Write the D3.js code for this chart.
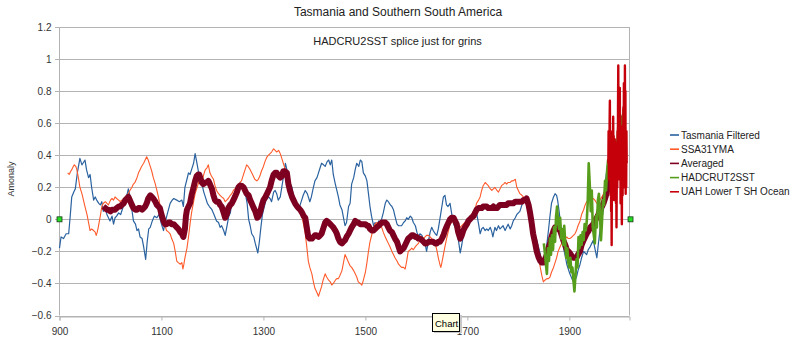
<!DOCTYPE html>
<html>
<head>
<meta charset="utf-8">
<script src="https://cdn.jsdelivr.net/npm/d3@7"></script>
<style>
  body { margin: 0; background: #fff; }
  svg { font-family: "Liberation Sans", Arial, sans-serif; }
</style>
</head>
<body>
<div id="container"></div>
<script>
// Hard Code values ---------- ---------- ----------
let canvasW = 798, canvasH = 341;
let title = "Tasmania and Southern South America";
let subtitle = "HADCRU2SST splice just for grins";
let yTicks = [-0.6, -0.4, -0.2, 0, 0.2, 0.4, 0.6, 0.8, 1, 1.2];
let xTicks = [900, 1100, 1300, 1500, 1700, 1900];
let seriesNames = ["Tasmania Filtered", "SSA31YMA", "Averaged", "HADCRUT2SST", "UAH  Lower T SH Ocean"];

// Data ---------- ---------- ----------
let tasmania = [[900,-0.18],[903,-0.11],[908,-0.12],[913,-0.09],[918,-0.09],[921,0.02],[924,0.14],[928,0.17],[931,0.19],[935,0.29],[940,0.38],[944,0.34],[946,0.35],[950,0.37],[953,0.31],[957,0.26],[960,0.28],[963,0.2],[967,0.12],[970,0.14],[973,0.12],[977,0.1],[980,0.09],[983,0.11],[986,0.05],[990,0.08],[993,0.03],[999,-0.01],[1003,0.02],[1006,-0.03],[1009,0.01],[1012,0.02],[1016,0.04],[1020,0.03],[1025,0.08],[1030,0.12],[1035,0.19],[1038,0.15],[1042,0.06],[1045,-0.01],[1049,-0.03],[1052,-0.07],[1055,-0.06],[1058,-0.11],[1062,-0.12],[1065,-0.17],[1069,-0.25],[1072,-0.14],[1075,-0.06],[1078,-0.05],[1082,-0.01],[1086,0.02],[1091,0.01],[1095,0.03],[1100,-0.03],[1104,-0.07],[1108,-0.01],[1112,0.04],[1117,0.1],[1121,0.12],[1124,0.13],[1130,0.12],[1135,0.11],[1140,0.12],[1143,0.08],[1146,0.2],[1150,0.25],[1153,0.29],[1156,0.28],[1159,0.31],[1163,0.35],[1166,0.41],[1169,0.36],[1173,0.29],[1176,0.23],[1180,0.21],[1183,0.17],[1186,0.14],[1190,0.1],[1194,0.08],[1199,0.06],[1203,0.03],[1208,-0.01],[1212,-0.02],[1215,-0.05],[1218,-0.04],[1222,-0.07],[1225,-0.1],[1228,-0.05],[1232,0.02],[1235,0.04],[1238,0.1],[1241,0.13],[1244,0.17],[1248,0.21],[1251,0.2],[1254,0.23],[1258,0.21],[1261,0.19],[1264,0.17],[1268,0.1],[1271,0],[1274,-0.04],[1277,-0.09],[1281,-0.11],[1284,-0.15],[1289,-0.21],[1292,-0.14],[1295,-0.05],[1298,0.03],[1301,0.07],[1305,0.12],[1310,0.14],[1313,0.13],[1316,0.11],[1320,0.17],[1323,0.18],[1326,0.16],[1329,0.12],[1333,0.14],[1336,0.2],[1340,0.28],[1343,0.35],[1346,0.31],[1350,0.25],[1353,0.22],[1356,0.2],[1359,0.14],[1362,0.1],[1366,0.07],[1369,0.06],[1372,0.09],[1375,0.12],[1378,0.15],[1382,0.18],[1386,0.16],[1391,0.11],[1394,0.14],[1398,0.2],[1401,0.24],[1405,0.26],[1408,0.29],[1411,0.32],[1414,0.35],[1418,0.34],[1421,0.33],[1425,0.36],[1428,0.37],[1431,0.34],[1434,0.37],[1437,0.28],[1441,0.22],[1444,0.18],[1447,0.14],[1450,0.09],[1454,0.06],[1457,0.01],[1460,-0.04],[1463,-0.02],[1467,0.08],[1470,0.1],[1473,0.22],[1477,0.26],[1480,0.31],[1483,0.35],[1487,0.33],[1490,0.37],[1493,0.36],[1496,0.29],[1500,0.27],[1503,0.24],[1506,0.16],[1509,0.08],[1512,0.02],[1516,-0.04],[1519,-0.02],[1522,-0.04],[1526,-0.01],[1530,-0.02],[1535,0.04],[1539,0.1],[1542,0.12],[1545,0.11],[1549,0.09],[1552,0.08],[1555,0.06],[1558,0.02],[1562,-0.03],[1565,-0.04],[1568,-0.04],[1571,-0.04],[1575,-0.02],[1578,-0.01],[1581,0.01],[1584,0],[1588,0.02],[1591,0.01],[1594,-0.02],[1598,-0.04],[1601,-0.08],[1604,-0.11],[1607,-0.09],[1611,-0.1],[1614,-0.13],[1617,-0.15],[1620,-0.2],[1624,-0.13],[1627,-0.08],[1630,-0.05],[1633,-0.07],[1637,-0.09],[1640,-0.1],[1643,-0.06],[1647,0.02],[1650,0.08],[1653,0.14],[1656,0.15],[1659,0.09],[1662,0.08],[1666,0.1],[1669,0.04],[1673,-0.03],[1676,-0.05],[1679,-0.07],[1682,-0.12],[1686,-0.21],[1689,-0.16],[1692,-0.1],[1695,-0.05],[1699,-0.02],[1702,-0.01],[1706,0.02],[1709,0.03],[1712,0.05],[1715,0.06],[1718,0.04],[1722,-0.03],[1725,-0.09],[1728,-0.06],[1731,-0.05],[1735,-0.07],[1738,-0.06],[1741,-0.07],[1745,-0.05],[1748,-0.08],[1750,-0.11],[1754,-0.05],[1757,-0.07],[1761,-0.04],[1764,-0.06],[1767,-0.05],[1770,-0.04],[1774,-0.07],[1777,-0.05],[1780,-0.03],[1784,-0.06],[1787,-0.04],[1790,-0.01],[1794,0.01],[1797,0.03],[1800,0.04],[1803,0.05],[1807,0.09],[1810,0.12],[1813,0.13],[1816,0.13],[1820,0.1],[1823,0.06],[1826,-0.01],[1829,-0.07],[1833,-0.1],[1836,-0.13],[1840,-0.18],[1843,-0.22],[1846,-0.26],[1849,-0.27],[1852,-0.26],[1855,-0.18],[1859,-0.07],[1862,0.02],[1865,0.1],[1869,0.14],[1872,0.16],[1875,0.15],[1877,0.12],[1880,0.05],[1882,-0.01],[1885,-0.09],[1888,-0.17],[1892,-0.23],[1895,-0.28],[1898,-0.31],[1901,-0.34],[1905,-0.37],[1908,-0.39],[1911,-0.38],[1914,-0.36],[1917,-0.32],[1921,-0.28],[1924,-0.24],[1928,-0.2],[1931,-0.21],[1934,-0.22],[1937,-0.19],[1941,-0.17],[1944,-0.15],[1947,-0.13],[1950,-0.18],[1954,-0.24],[1957,-0.15],[1960,-0.07],[1963,-0.01],[1967,0.06],[1970,0.18],[1972,0.27],[1975,0.34]];

let ssa31yma = [[916,0.29],[919,0.28],[922,0.3],[924,0.31],[927,0.33],[929,0.34],[932,0.33],[934,0.31],[937,0.26],[940,0.2],[944,0.16],[947,0.12],[950,0.08],[954,0.03],[957,-0.02],[960,-0.07],[963,-0.06],[967,-0.07],[970,-0.08],[972,-0.1],[974,-0.08],[976,-0.05],[980,0.02],[983,0.08],[986,0.1],[990,0.11],[993,0.1],[996,0.09],[1000,0.12],[1003,0.13],[1006,0.12],[1009,0.14],[1012,0.13],[1016,0.12],[1019,0.11],[1022,0.12],[1026,0.11],[1029,0.1],[1032,0.13],[1035,0.16],[1038,0.18],[1042,0.2],[1045,0.22],[1048,0.23],[1052,0.26],[1055,0.29],[1058,0.31],[1061,0.33],[1065,0.35],[1068,0.37],[1071,0.39],[1074,0.37],[1078,0.33],[1081,0.3],[1084,0.26],[1088,0.22],[1091,0.18],[1094,0.14],[1097,0.09],[1100,0.04],[1104,-0.01],[1107,-0.04],[1110,-0.07],[1114,-0.08],[1117,-0.09],[1120,-0.12],[1124,-0.15],[1127,-0.2],[1130,-0.26],[1133,-0.27],[1137,-0.28],[1140,-0.27],[1142,-0.31],[1144,-0.28],[1146,-0.24],[1150,-0.18],[1153,-0.11],[1156,-0.03],[1159,0.04],[1163,0.11],[1166,0.16],[1170,0.2],[1173,0.23],[1176,0.25],[1180,0.24],[1183,0.28],[1186,0.31],[1189,0.32],[1192,0.34],[1195,0.29],[1198,0.27],[1202,0.25],[1205,0.21],[1208,0.18],[1212,0.16],[1215,0.15],[1218,0.14],[1222,0.13],[1225,0.11],[1228,0.12],[1231,0.13],[1235,0.15],[1238,0.16],[1241,0.18],[1244,0.19],[1248,0.2],[1251,0.21],[1254,0.23],[1257,0.24],[1261,0.28],[1264,0.31],[1267,0.34],[1270,0.33],[1274,0.31],[1277,0.29],[1280,0.27],[1283,0.25],[1287,0.24],[1290,0.25],[1293,0.27],[1296,0.3],[1300,0.33],[1303,0.36],[1307,0.39],[1310,0.4],[1313,0.41],[1316,0.42],[1320,0.44],[1323,0.43],[1326,0.42],[1330,0.43],[1333,0.41],[1336,0.38],[1339,0.35],[1342,0.32],[1346,0.29],[1349,0.26],[1352,0.23],[1356,0.18],[1359,0.13],[1362,0.1],[1366,0.08],[1369,0.06],[1372,0.04],[1375,0.03],[1378,-0.02],[1382,-0.09],[1385,-0.17],[1388,-0.26],[1391,-0.3],[1395,-0.34],[1398,-0.39],[1401,-0.43],[1404,-0.45],[1408,-0.48],[1411,-0.45],[1414,-0.42],[1417,-0.38],[1421,-0.34],[1424,-0.36],[1428,-0.38],[1431,-0.39],[1434,-0.41],[1437,-0.4],[1441,-0.38],[1444,-0.37],[1447,-0.37],[1450,-0.35],[1454,-0.32],[1457,-0.27],[1460,-0.22],[1463,-0.24],[1467,-0.27],[1470,-0.29],[1473,-0.3],[1477,-0.32],[1480,-0.34],[1483,-0.36],[1486,-0.39],[1490,-0.4],[1493,-0.41],[1496,-0.38],[1500,-0.33],[1503,-0.27],[1506,-0.2],[1509,-0.14],[1513,-0.09],[1516,-0.05],[1519,-0.03],[1522,-0.02],[1526,-0.03],[1529,-0.04],[1532,-0.05],[1535,-0.08],[1539,-0.11],[1542,-0.13],[1545,-0.15],[1548,-0.17],[1552,-0.2],[1555,-0.22],[1558,-0.24],[1562,-0.26],[1565,-0.28],[1568,-0.29],[1571,-0.3],[1575,-0.3],[1578,-0.31],[1581,-0.26],[1584,-0.2],[1588,-0.19],[1591,-0.18],[1594,-0.19],[1598,-0.17],[1601,-0.16],[1604,-0.15],[1607,-0.13],[1611,-0.11],[1614,-0.12],[1617,-0.11],[1620,-0.1],[1624,-0.1],[1627,-0.11],[1630,-0.12],[1633,-0.13],[1637,-0.15],[1640,-0.19],[1643,-0.24],[1646,-0.28],[1648,-0.3],[1650,-0.27],[1653,-0.22],[1656,-0.17],[1660,-0.11],[1663,-0.07],[1666,-0.03],[1669,-0.02],[1673,-0.01],[1676,-0.02],[1679,-0.03],[1682,-0.03],[1686,-0.05],[1689,-0.04],[1692,-0.03],[1695,-0.02],[1699,-0.01],[1702,-0.01],[1705,0.01],[1708,0.03],[1712,0.05],[1715,0.06],[1718,0.1],[1722,0.12],[1725,0.14],[1728,0.18],[1731,0.21],[1735,0.23],[1738,0.22],[1741,0.21],[1745,0.19],[1748,0.18],[1751,0.19],[1754,0.2],[1758,0.18],[1761,0.17],[1764,0.19],[1767,0.21],[1771,0.22],[1774,0.23],[1777,0.22],[1780,0.23],[1784,0.23],[1787,0.24],[1790,0.24],[1794,0.25],[1797,0.2],[1800,0.18],[1803,0.16],[1807,0.15],[1810,0.14],[1813,0.13],[1816,0.13],[1820,0.1],[1823,0.06],[1826,-0.01],[1829,-0.07],[1833,-0.12],[1836,-0.17],[1840,-0.24],[1843,-0.3],[1846,-0.35],[1849,-0.39],[1852,-0.38],[1856,-0.37],[1859,-0.37],[1862,-0.36],[1865,-0.33],[1869,-0.3],[1872,-0.27],[1875,-0.24],[1878,-0.2],[1882,-0.17],[1885,-0.15],[1888,-0.13],[1892,-0.12],[1895,-0.11],[1898,-0.12],[1901,-0.12],[1905,-0.11],[1908,-0.1],[1911,-0.09],[1914,-0.07],[1917,-0.04],[1921,-0.01],[1924,0.03],[1928,0.06],[1931,0.09],[1934,0.11],[1938,0.12],[1941,0.13],[1944,0.13],[1947,0.13],[1950,0.12],[1954,0.1],[1957,0.11],[1960,0.12],[1964,0.14],[1967,0.16],[1970,0.18],[1973,0.2],[1975,0.21]];

let averaged = [[986,0.08],[990,0.07],[993,0.06],[996,0.06],[1000,0.05],[1003,0.06],[1006,0.06],[1009,0.06],[1012,0.07],[1016,0.08],[1019,0.08],[1022,0.09],[1026,0.1],[1029,0.12],[1032,0.13],[1035,0.14],[1038,0.12],[1042,0.09],[1045,0.07],[1049,0.06],[1052,0.06],[1055,0.07],[1058,0.07],[1062,0.06],[1065,0.07],[1068,0.08],[1071,0.1],[1074,0.13],[1078,0.15],[1081,0.14],[1084,0.13],[1088,0.11],[1091,0.09],[1094,0.08],[1097,0.07],[1100,0.03],[1104,-0.01],[1107,-0.03],[1110,-0.03],[1114,-0.02],[1117,-0.02],[1120,-0.03],[1124,-0.03],[1127,-0.04],[1130,-0.05],[1133,-0.06],[1137,-0.08],[1140,-0.09],[1143,-0.11],[1146,-0.06],[1148,0.02],[1150,0.06],[1153,0.08],[1156,0.1],[1159,0.15],[1163,0.2],[1166,0.24],[1169,0.27],[1172,0.28],[1174,0.28],[1177,0.25],[1179,0.23],[1182,0.22],[1186,0.23],[1189,0.23],[1192,0.24],[1195,0.22],[1199,0.19],[1202,0.15],[1205,0.12],[1208,0.11],[1212,0.11],[1215,0.09],[1218,0.08],[1222,0.04],[1225,0.01],[1228,0.03],[1231,0.07],[1235,0.09],[1238,0.1],[1241,0.12],[1244,0.14],[1248,0.17],[1251,0.2],[1254,0.21],[1257,0.21],[1261,0.2],[1264,0.18],[1267,0.16],[1271,0.15],[1274,0.12],[1277,0.1],[1281,0.07],[1284,0.05],[1288,0.01],[1291,0.02],[1293,0.04],[1297,0.09],[1300,0.12],[1304,0.14],[1307,0.16],[1310,0.18],[1313,0.2],[1316,0.24],[1320,0.28],[1323,0.29],[1326,0.29],[1330,0.27],[1333,0.26],[1336,0.27],[1339,0.3],[1342,0.3],[1346,0.29],[1349,0.22],[1352,0.18],[1356,0.14],[1359,0.12],[1362,0.1],[1366,0.08],[1369,0.07],[1372,0.06],[1376,0.04],[1379,0.02],[1382,0.01],[1385,-0.05],[1388,-0.11],[1391,-0.12],[1395,-0.12],[1398,-0.11],[1401,-0.1],[1404,-0.1],[1408,-0.11],[1411,-0.1],[1414,-0.09],[1418,-0.05],[1421,-0.02],[1424,-0.01],[1428,-0.02],[1431,-0.03],[1434,-0.04],[1437,-0.05],[1441,-0.07],[1444,-0.09],[1447,-0.12],[1450,-0.14],[1454,-0.15],[1457,-0.14],[1460,-0.13],[1463,-0.11],[1467,-0.09],[1470,-0.07],[1473,-0.05],[1477,-0.03],[1480,-0.01],[1483,-0.02],[1486,-0.02],[1490,-0.03],[1493,-0.03],[1496,-0.03],[1500,-0.03],[1503,-0.04],[1506,-0.04],[1509,-0.06],[1513,-0.07],[1516,-0.07],[1519,-0.06],[1522,-0.05],[1526,-0.04],[1529,-0.03],[1532,-0.02],[1535,-0.02],[1539,-0.02],[1542,-0.03],[1545,-0.05],[1548,-0.07],[1552,-0.08],[1555,-0.1],[1558,-0.12],[1562,-0.14],[1565,-0.17],[1568,-0.2],[1571,-0.19],[1575,-0.18],[1578,-0.16],[1581,-0.14],[1584,-0.12],[1588,-0.11],[1591,-0.1],[1594,-0.1],[1598,-0.11],[1601,-0.11],[1604,-0.12],[1607,-0.12],[1611,-0.13],[1614,-0.14],[1617,-0.15],[1620,-0.15],[1624,-0.14],[1627,-0.14],[1630,-0.14],[1633,-0.14],[1637,-0.15],[1640,-0.15],[1643,-0.14],[1646,-0.14],[1650,-0.12],[1653,-0.1],[1656,-0.07],[1660,-0.04],[1663,-0.02],[1666,0],[1669,0.01],[1673,0.01],[1676,-0.01],[1679,-0.03],[1682,-0.08],[1686,-0.12],[1689,-0.1],[1692,-0.07],[1695,-0.05],[1699,-0.03],[1702,-0.01],[1705,0],[1708,0.01],[1712,0.02],[1715,0.04],[1718,0.06],[1722,0.07],[1725,0.07],[1728,0.07],[1731,0.08],[1735,0.08],[1738,0.08],[1741,0.07],[1745,0.07],[1748,0.07],[1751,0.08],[1754,0.07],[1758,0.07],[1761,0.08],[1764,0.09],[1767,0.09],[1771,0.09],[1774,0.09],[1777,0.09],[1780,0.1],[1784,0.1],[1787,0.1],[1790,0.1],[1794,0.11],[1797,0.11],[1800,0.11],[1803,0.11],[1807,0.11],[1810,0.12],[1813,0.12],[1816,0.13],[1820,0.09],[1823,0.04],[1826,-0.02],[1829,-0.09],[1833,-0.15],[1836,-0.2],[1840,-0.24],[1843,-0.26],[1846,-0.27],[1849,-0.27],[1852,-0.25],[1856,-0.22],[1859,-0.18],[1862,-0.15],[1865,-0.11],[1869,-0.07],[1872,-0.05],[1875,-0.05],[1878,-0.06],[1882,-0.07],[1885,-0.1],[1888,-0.13],[1892,-0.16],[1895,-0.19],[1898,-0.2],[1901,-0.21],[1905,-0.23],[1908,-0.24],[1911,-0.24],[1914,-0.24],[1917,-0.22],[1921,-0.2],[1924,-0.16],[1928,-0.13],[1931,-0.11],[1934,-0.09],[1938,-0.07],[1941,-0.05],[1944,-0.04],[1947,-0.03],[1950,-0.01],[1954,0.01],[1957,0.03],[1960,0.06],[1964,0.08],[1967,0.1],[1970,0.13],[1973,0.16],[1976,0.22],[1978,0.27]];

let hadcrut = [[1850,-0.15],[1852,-0.21],[1854,-0.28],[1856,-0.34],[1858,-0.18],[1860,-0.26],[1862,-0.12],[1864,-0.22],[1866,-0.1],[1868,-0.19],[1870,-0.05],[1872,-0.14],[1874,0.02],[1876,0.08],[1878,-0.02],[1880,-0.06],[1882,0.01],[1884,-0.12],[1886,-0.06],[1888,-0.16],[1890,-0.04],[1892,-0.15],[1894,-0.24],[1896,-0.18],[1898,-0.27],[1900,-0.3],[1902,-0.24],[1904,-0.33],[1906,-0.3],[1908,-0.38],[1910,-0.45],[1912,-0.35],[1914,-0.25],[1916,-0.3],[1918,-0.11],[1920,-0.18],[1922,-0.1],[1924,-0.16],[1926,-0.08],[1928,-0.13],[1930,-0.03],[1932,-0.07],[1934,-0.02],[1936,0.1],[1938,0.35],[1940,0.22],[1942,0.05],[1944,0.18],[1946,-0.05],[1948,-0.1],[1950,-0.15],[1952,0.02],[1954,-0.05],[1956,0.12],[1958,0.16],[1960,0.04],[1962,-0.13],[1964,-0.02],[1966,0.12],[1968,0.09],[1970,0.24],[1972,0.18],[1974,0.3],[1976,0.37],[1978,0.33],[1980,0.35],[1982,0.42],[1984,0.3],[1986,0.49],[1988,0.4],[1990,0.49],[1992,0.38],[1994,0.45],[1996,0.58],[1998,0.7],[2000,0.55],[2002,0.64],[2004,0.5],[2006,0.68],[2008,0.6],[2009,0.56]];

let uah = [[1976.5,0.35],[1977,0.55],[1977.5,0.25],[1978,0.48],[1978.5,0.3],[1979,0.6],[1979.5,0.74],[1980,0.35],[1980.5,0.55],[1981,0.15],[1981.5,0.4],[1982,0.05],[1982.5,0.35],[1983,-0.16],[1983.5,0.3],[1984,0.5],[1984.5,0.2],[1985,0.55],[1985.5,0.3],[1986,0.64],[1986.5,0.35],[1987,0.52],[1987.5,0.12],[1988,0.42],[1988.5,0.18],[1989,0.5],[1989.5,0.25],[1990,0.48],[1990.5,0.15],[1991,0.45],[1991.5,0.1],[1992,0.3],[1992.5,-0.05],[1993,0.25],[1993.5,0.45],[1994,0.2],[1994.5,0.55],[1995,0.3],[1995.5,0.7],[1996,0.96],[1996.5,0.4],[1997,0.72],[1997.5,0.25],[1998,0.6],[1998.5,0.3],[1999,0.82],[1999.5,0.45],[2000,0.65],[2000.5,0.1],[2001,0.45],[2001.5,0.2],[2002,0.58],[2002.5,0.3],[2003,-0.03],[2003.5,0.35],[2004,0.5],[2004.5,0.15],[2005,0.55],[2005.5,0.28],[2006,0.7],[2006.5,0.4],[2007,0.85],[2007.5,0.35],[2008,0.6],[2008.5,0.2],[2009,0.96],[2009.5,0.45],[2010,0.8],[2010.5,0.16],[2011,0.5],[2011.5,0.2],[2012,0.55],[2012.5,0.35]];

let seriesData = [tasmania, ssa31yma, averaged, hadcrut, uah];
let seriesColor = ["#2a62a0", "#ff5a2a", "#7e0021", "#579d1c", "#c5000b"];
let seriesWidth = [1.2, 1.1, 6, 2.6, 2.4];

// Initialize ---------- ---------- ----------
let svg = d3.select("#container").append("svg").attr("width", canvasW).attr("height", canvasH);

let x = d3.scaleLinear().domain([900, 2018]).range([59.5, 629.5]);
let y = d3.scaleLinear().domain([-0.6, 1.2]).range([315.5, 27]);

// Grid ---------- ---------- ----------
svg.append("g").selectAll("line").data(yTicks).enter().append("line")
    .attr("x1", 55).attr("x2", 629.5)
    .attr("y1", d=>Math.round(y(d))+0.5).attr("y2", d=>Math.round(y(d))+0.5)
    .attr("stroke", "#b3b3b3").attr("stroke-width", 1);
svg.append("line").attr("x1", 629.5).attr("x2", 629.5).attr("y1", y(1.2)).attr("y2", y(-0.6))
    .attr("stroke", "#b3b3b3");
svg.append("line").attr("x1", 59.5).attr("x2", 59.5).attr("y1", y(1.2)).attr("y2", y(-0.6))
    .attr("stroke", "#b3b3b3");

// Axes ---------- ---------- ----------
let yAxis = svg.append("g").attr("transform", "translate(59.5,0)")
    .call(d3.axisLeft(y).tickValues(yTicks).tickSize(0).tickPadding(8).tickFormat(d=>d3.format("")(+d.toFixed(1))));
yAxis.select(".domain").remove();
yAxis.selectAll("text").attr("font-size", 10).attr("fill", "#333");

let xAxis = svg.append("g").attr("transform", "translate(0," + (Math.round(y(-0.6))+0.5) + ")")
    .call(d3.axisBottom(x).tickValues(xTicks).tickSize(4).tickPadding(7).tickFormat(d3.format("d")));
xAxis.select(".domain").attr("stroke", "#b3b3b3");
xAxis.selectAll(".tick line").attr("stroke", "#b3b3b3");
xAxis.selectAll("text").attr("font-size", 10).attr("fill", "#333");

// Lines ---------- ---------- ----------
let line = d3.line().x(d=>x(d[0])).y(d=>y(d[1]));
svg.append("g").selectAll("path").data(seriesData).enter().append("path")
    .attr("d", line)
    .attr("fill", "none")
    .attr("stroke", (d,i)=>seriesColor[i])
    .attr("stroke-width", (d,i)=>seriesWidth[i])
    .attr("stroke-linejoin", "round");

// Selection handles on the zero line
svg.append("g").selectAll("rect").data([900, 2020]).enter().append("rect")
    .attr("x", d=>x(d)-2.5).attr("y", y(0)-2.5)
    .attr("width", 5).attr("height", 5)
    .attr("fill", "#22dd22").attr("stroke", "#1a3a1a").attr("stroke-width", 0.8);

// Titles ---------- ---------- ----------
svg.append("text").attr("x", 398).attr("y", 16).attr("text-anchor", "middle")
    .attr("font-size", 12).attr("fill", "#222").text(title);
svg.append("text").attr("x", 397.5).attr("y", 45).attr("text-anchor", "middle")
    .attr("font-size", 11).attr("fill", "#222").text(subtitle);
svg.append("text").attr("transform", "translate(14,179) rotate(-90)").attr("text-anchor", "middle")
    .attr("font-size", 9).attr("fill", "#333").text("Amonaly");

// Legend ---------- ---------- ----------
let legend = svg.append("g").selectAll("g").data(seriesNames).enter().append("g")
    .attr("transform", (d,i)=>"translate(670," + (135 + i*14.2) + ")");
legend.append("line").attr("x1", 0).attr("x2", 9).attr("y1", 0).attr("y2", 0)
    .attr("stroke", (d,i)=>seriesColor[i]).attr("stroke-width", 1.6);
legend.append("text").attr("x", 11).attr("y", 3.6)
    .attr("font-size", 10).attr("fill", "#222").text(d=>d);

// Tooltip ---------- ---------- ----------
let tip = svg.append("g").attr("transform", "translate(432,313)");
tip.append("rect").attr("x", 2).attr("y", 2).attr("width", 28).attr("height", 18).attr("fill", "#c8c8c8");
tip.append("rect").attr("x", 0.5).attr("y", 0.5).attr("width", 27).attr("height", 18)
    .attr("fill", "#ffffe1").attr("stroke", "#000");
tip.append("text").attr("x", 3).attr("y", 13.5).attr("font-size", 9.5).attr("fill", "#000").text("Chart");
</script>
</body>
</html>
